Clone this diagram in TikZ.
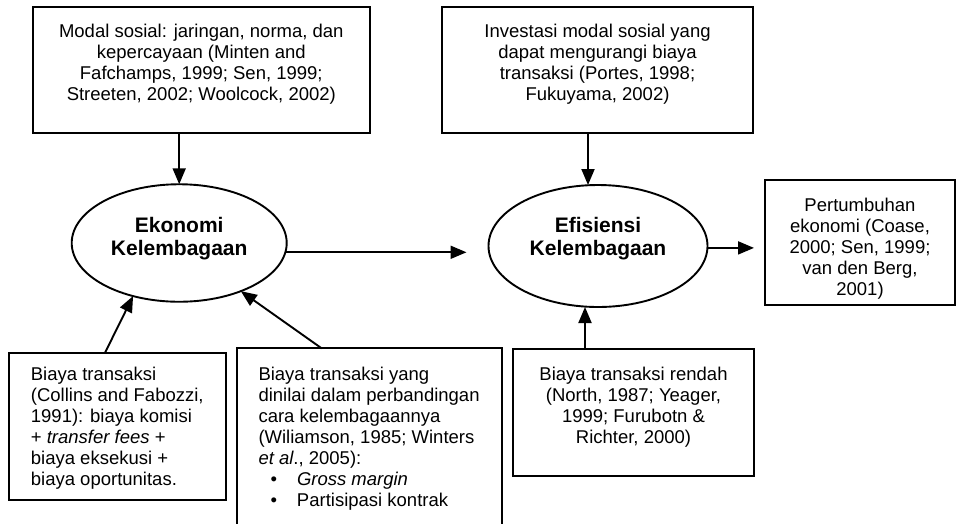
\documentclass[tikz,border=0pt]{standalone}
\usepackage{fontspec}
\setmainfont{Liberation Sans}
\usetikzlibrary{shapes.geometric,arrows.meta,calc}
\newcommand{\mybul}{\hspace*{12pt}\makebox[26.5pt][l]{•}}
\begin{document}
\begin{tikzpicture}[x=1pt,y=-1pt,
  box/.style={draw, line width=1.9pt, inner sep=0pt, outer sep=0pt},
  txt/.style={inner sep=0pt, font=\fontsize{18.5}{21}\selectfont},
  ell/.style={draw, ellipse, line width=1.9pt, inner sep=0pt, outer sep=0pt},
  ttl/.style={inner sep=0pt, align=center, font=\bfseries\fontsize{21}{23}\selectfont},
  arr/.style={-{Triangle[length=16pt,width=13pt]}, line width=1.9pt}]
\useasboundingbox (0,0) rectangle (957,523);
\fill[white] (0,0) rectangle (957,523);
\begin{scope}
\clip (0,0) rectangle (957,523);
% boxes
\node[box, minimum width=337.3pt, minimum height=125.7pt] (box1) at (201.3,70.2) {};
\node[box, minimum width=311pt, minimum height=125.7pt] (box2) at (597.5,70.2) {};
\node[box, minimum width=190pt, minimum height=125pt] (box3) at (860,242.5) {};
\node[box, minimum width=216.7pt, minimum height=147.3pt] (lowL) at (117.4,426.3) {};
\node[box, minimum width=264.4pt, minimum height=191.7pt] (lowM) at (369.5,444.2) {};
\node[box, minimum width=241pt, minimum height=127pt] (lowR) at (633.5,412.5) {};
% ellipses
\node[ell, minimum width=215pt, minimum height=117.5pt] (ell1) at (179.2,243) {};
\node[ell, minimum width=219pt, minimum height=122pt] (ell2) at (598,246) {};
\node[ttl] (e1t) at (179.2,238.3) {Ekonomi\\Kelembagaan};
\node[ttl] (e2t) at (598,238.3) {Efisiensi\\Kelembagaan};
% texts
\node[txt, align=center, anchor=north] (t1) at (201.3,24) {Modal sosial: jaringan, norma, dan\\kepercayaan (Minten and\\Fafchamps, 1999; Sen, 1999;\\Streeten, 2002; Woolcock, 2002)};
\node[txt, align=center, anchor=north] (t2) at (597.5,24) {Investasi modal sosial yang\\dapat mengurangi biaya\\transaksi (Portes, 1998;\\Fukuyama, 2002)};
\begin{scope}
\clip (box3.north west) rectangle ([yshift=5pt]box3.south east);
\node[txt, align=center, anchor=north] (t3) at (860,197.5) {Pertumbuhan\\ekonomi (Coase,\\2000; Sen, 1999;\\van den Berg,\\2001)};
\end{scope}
\node[txt, align=left, anchor=north west] (tL) at (30.7,366.5) {Biaya transaksi\\(Collins and Fabozzi,\\1991): biaya komisi\\+ \textit{transfer fees} +\\biaya eksekusi +\\biaya oportunitas.};
\node[txt, align=left, anchor=north west] (tM) at (258.3,366.5) {Biaya transaksi yang\\dinilai dalam perbandingan\\cara kelembagaannya\\(Wiliamson, 1985; Winters\\\textit{et al}., 2005):\\\mybul\textit{Gross margin}\\\mybul Partisipasi kontrak};
\node[txt, align=center, anchor=north] (tR) at (633.5,366.5) {Biaya transaksi rendah\\(North, 1987; Yeager,\\1999; Furubotn \&\\Richter, 2000)};
% connectors
\draw[arr] (ell1.north |- box1.south) -- (ell1.north);
\draw[arr] ([xshift=-10pt]ell2.north |- box2.south) -- ([xshift=-10pt]ell2.north);
\draw[arr, shorten >=22pt] (ell1.-5.4) -- (ell1.-5.4 -| ell2.west);
\draw[arr, shorten >=11pt] (ell2.-1.6) -- (ell2.-1.6 -| box3.west);
\draw[arr] ([xshift=96pt]lowL.north west) -- (ell1.229.3);
\draw[arr] ([xshift=84.4pt]lowM.north west) -- (ell1.322.8);
\draw[arr] ([xshift=-13pt]ell2.south |- lowR.north) -- ([xshift=-13pt]ell2.south);
\end{scope}
\end{tikzpicture}
\end{document}
